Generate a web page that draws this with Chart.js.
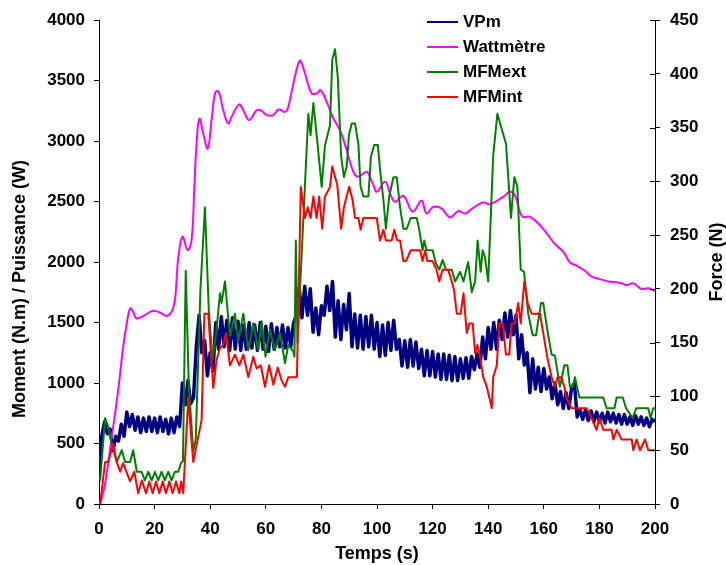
<!DOCTYPE html>
<html>
<head>
<meta charset="utf-8">
<script src="https://cdn.jsdelivr.net/npm/chart.js@4.4.0/dist/chart.umd.min.js"></script>
<style>
html, body { margin: 0; padding: 0; background: #fff; }
#chart { display: block; }
</style>
</head>
<body>
<canvas id="chart" width="726" height="565"></canvas>
<script>
const FONT = '"Liberation Sans", Arial, sans-serif';

// VPm, one reading per second, t = 0..200 (left axis)
const vpmValues = [
    190, 560, 680, 580, 620, 440, 560, 520, 660, 560, 760,
    640, 740, 610, 720, 590, 710, 600, 720, 600, 710,
    590, 720, 600, 700, 580, 710, 590, 720, 640, 1000,
    820, 1020, 830, 880, 1300, 1560, 1250, 1350, 1060, 1250,
    1100, 1500, 1280, 1550, 1300, 1520, 1270, 1540, 1280, 1510,
    1270, 1480, 1280, 1500, 1290, 1480, 1270, 1500, 1280, 1470,
    1260, 1490, 1280, 1460, 1300, 1480, 1290, 1460, 1300, 1500,
    1560, 1790, 1540, 1800, 1560, 1780, 1420, 1620, 1400, 1640,
    1560, 1800, 1600, 1840, 1380, 1680, 1360, 1650, 1440, 1740,
    1300, 1570, 1290, 1560, 1280, 1550, 1300, 1560, 1280, 1500,
    1220, 1480, 1230, 1500, 1270, 1520, 1280, 1360, 1140, 1350,
    1130, 1360, 1140, 1340, 1120, 1280, 1060, 1270, 1060, 1260,
    1050, 1240, 1030, 1240, 1030, 1230, 1020, 1220, 1020, 1200,
    1040, 1210, 1040, 1220, 1110, 1240, 1130, 1380, 1200, 1460,
    1280, 1500, 1280, 1520, 1360, 1580, 1380, 1600, 1400, 1560,
    1200, 1400, 1150, 1250, 920, 1200, 950, 1130, 930, 1120,
    950, 1050, 870, 1000, 820, 930, 790, 920, 790, 960,
    1000, 720, 780, 700, 780, 690, 770, 680, 760, 680,
    750, 670, 760, 680, 750, 670, 740, 660, 740, 660,
    720, 650, 730, 660, 720, 650, 710, 640, 700, 680
];

// Wattmètre (W, left axis)
const wattTimes = [0.4, 2.2, 4.6, 6.9, 8.7, 10, 11.2, 12.3, 13.5, 16.5, 19.5, 22.5, 24.3, 26.1, 27.3, 27.9, 28.5, 30,
    31.9, 33.3, 34.3, 35.1, 36.1, 37.5, 39.1, 40.5, 41.7, 42.7, 43.5, 44.7, 46.5, 47.7, 50.4, 51.9, 54, 56.7, 58.5,
    60.3, 62.7, 64.5, 66.9, 68.1, 69.9, 71.7, 72.5, 74.1, 76.5, 78.3, 79.7, 81.9, 84.3, 86.7, 89.1, 91.5, 93.3,
    96.3, 98.7, 99.9, 102.9, 104.7, 106.5, 109.5, 112.8, 116, 117.8, 120.2, 123.2, 126.3, 129.2, 131.7, 133.5,
    138, 140.6, 145.4, 147.8, 149.6, 151.4, 152.5, 155, 158.6, 161.5, 164, 167, 169.4, 171.8, 174.8, 177.2,
    180.2, 183.8, 187.4, 189.8, 192.2, 195.2, 197.6, 200];
const wattValues = [0, 171, 556, 942, 1300, 1493, 1617, 1589, 1534, 1562, 1598, 1576, 1554, 1589, 1686, 1851, 2030, 2209,
    2099, 2182, 2622, 2981, 3187, 3063, 2939, 3173, 3394, 3416, 3380, 3256, 3146, 3201, 3303, 3256, 3173, 3256, 3250,
    3215, 3215, 3262, 3242, 3284, 3477, 3642, 3664, 3559, 3394, 3394, 3421, 3325, 3187, 3091, 2925, 2746, 2705,
    2746, 2636, 2581, 2664, 2568, 2498, 2548, 2416, 2507, 2402, 2457, 2444, 2369, 2421, 2402, 2430,
    2493, 2479, 2540, 2581, 2553, 2416, 2374, 2374, 2305, 2223, 2149, 2085, 1997, 1970, 1928, 1879,
    1859, 1837, 1829, 1810, 1824, 1777, 1783, 1760];

// MFMext (N, right axis)
const extTimes = [0.4, 2.2, 3.3, 4.6, 6.4, 8.2, 9.4, 11.2, 12.3, 13.6, 15.3, 16.5, 17.7, 19, 20.1, 21.3, 22.5, 23.7,
    24.9, 26.1, 27.3, 28.5, 29.5, 30.2, 31.2, 32.3, 33.9, 34.8, 36.5, 38.1, 39.5, 40.8, 42.3, 43.5, 44.1, 45.3,
    47.1, 48.9, 50.1, 51.9, 53.7, 55.5, 57.3, 58.5, 59.9, 61.5, 63.3, 65.1, 66.9, 68.1, 69.9, 70.3, 70.8, 71.4,
    75.3, 76.1, 77.1, 78.5, 80.1, 81.3, 83.1, 83.9, 84.9, 85.9, 87.1, 88.1, 89.1, 89.9, 90.9, 92.1, 93.3, 94.1,
    95.1, 96.9, 97.8, 99, 100.3, 101.1, 102.3, 103.2, 104.4, 105.9, 107.1, 108.3, 109.5, 110.7, 112.1, 114.3,
    115.2, 116.4, 117, 117.8, 120, 121.2, 122.4, 123.6, 124.8, 126.9, 128.1, 129.9, 131.1, 132.8, 134.1, 135.3,
    136.2, 137.3, 138, 138.8, 140, 141.8, 143.3, 146.4, 148.2, 149.4, 150.5, 151.7, 152.9, 154.4, 156, 157.2,
    159, 159.8, 161.2, 162.8, 164, 165.8, 167.4, 168.5, 169.4, 170.4, 171.2, 172.8, 181.4, 182.6, 185.4, 186.2,
    188.4, 189.6, 192, 193.2, 197.6, 198.4, 199.4, 200];
const extValues = [22, 80, 72, 56, 39, 50, 39, 39, 50, 30, 30, 22, 30, 22, 30, 22, 30, 22,
    30, 22, 30, 30, 38, 40, 217, 110, 49, 60, 200, 276, 180, 134, 162, 196, 187, 207,
    156, 177, 152, 177, 143, 168, 143, 170, 137, 162, 143, 159, 131, 148, 142, 137, 245, 150,
    363, 343, 373, 338, 295, 334, 352, 413, 423, 397, 323, 304, 314, 343, 354, 354, 335, 295,
    286, 286, 323, 334, 334, 311, 283, 256, 286, 304, 304, 276, 256, 256, 266, 266,
    255, 236, 245, 236, 236, 224, 218, 227, 218, 218, 207, 216, 207, 225, 197, 207,
    245, 216, 236, 230, 207, 324, 363, 335, 266, 304, 295, 218, 216, 177, 157, 157,
    187, 187, 163, 139, 138, 109, 129, 129, 109, 109, 118, 99, 99, 89, 89, 99,
    99, 89, 80, 89, 89, 80, 89, 89];

// MFMint (N, right axis)
const intTimes = [0.4, 2.2, 3.3, 5.1, 6.4, 7.6, 8.7, 10, 11.2, 12.7, 14.1, 15.4, 16.9, 18.1, 19.3, 20.5, 21.7, 22.9,
    24.1, 25.3, 26.5, 27.7, 28.9, 29.5, 30.3, 32.1, 33.9, 36.9, 37.9, 39.3, 41.1, 42.3, 43.5, 44.7, 45.7, 47.1,
    48.9, 50.5, 51.9, 53.7, 55.5, 56.7, 58.2, 59.7, 61.2, 62.7, 64.3, 65.7, 66.9, 68.1, 71.2, 72.6, 74.1, 75.1,
    76.1, 77.1, 78.3, 79.2, 80.3, 81.3, 83.1, 83.9, 85.7, 87.1, 88.1, 90, 91.2, 92.1, 93.3, 94.1, 95.1, 99.9,
    101.1, 102.3, 103.2, 105.3, 106.2, 107.3, 108.3, 109.5, 110.4, 112.2, 115.5, 116.4, 117.3, 118.1, 120, 121.4,
    122.4, 123.6, 125.6, 126.9, 127.7, 128.7, 130.1, 131.1, 132.3, 133.2, 134.4, 135.3, 136.1, 137.1, 138.2,
    139.5, 141.3, 141.8, 143.1, 144, 145.2, 146.4, 147.6, 148.4, 149.6, 150.8, 151.7, 153, 154.2, 155.6, 158.6,
    159.8, 161.2, 162.8, 164, 165, 166.2, 167.4, 168.2, 170, 175.4, 177.2, 179, 180, 181.4, 184.4, 185, 186.2,
    188, 191.6, 192.2, 193.4, 194.6, 196.4, 197.6, 200];
const intValues = [0, 39, 39, 56, 39, 30, 38, 29, 21, 30, 10, 22, 10, 21, 10, 21, 10, 21,
    10, 21, 10, 21, 10, 21, 10, 98, 39, 78, 177, 177, 108, 134, 145, 148, 159, 129,
    139, 129, 139, 118, 137, 126, 129, 109, 129, 111, 127, 115, 109, 118, 118, 295, 266, 276,
    266, 286, 266, 286, 256, 286, 295, 314, 297, 256, 276, 295, 283, 266, 266, 255, 266, 266,
    245, 255, 245, 245, 255, 245, 245, 226, 226, 236, 236, 226, 236, 226, 226, 218,
    207, 218, 218, 207, 199, 177, 177, 196, 159, 168, 168, 140, 148, 137, 118,
    109, 89, 118, 129, 168, 168, 139, 139, 168, 168, 187, 168, 207, 187, 177, 177,
    159, 137, 118, 109, 118, 118, 109, 98, 89, 89, 80, 69, 80, 69, 69, 60, 69,
    60, 60, 50, 60, 50, 60, 50, 50];

const leftTitle = 'Moment (N.m) / Puissance (W)';
const rightTitle = 'Force (N)';

function toPoints(times, values) {
    return values.map((v, i) => ({ x: times[i], y: v }));
}

function axisGrid() {
    return { drawOnChartArea: false, drawTicks: true, tickLength: 5, tickColor: '#000', tickWidth: 1 };
}

const tickFont = { family: FONT, size: 17, weight: 'bold' };
const plainTick = v => String(v);

// extra drawing: inner ticks of right axis, rotated titles, legend inside plot
const overlay = {
    id: 'overlay',
    afterDraw(chart) {
        const ctx = chart.ctx;
        const area = chart.chartArea;
        const y1 = chart.scales.y1;
        ctx.save();
        ctx.strokeStyle = '#000';
        ctx.lineWidth = 1;
        y1.ticks.forEach(t => {
            const py = Math.round(y1.getPixelForValue(t.value)) + 0.5;
            ctx.beginPath();
            ctx.moveTo(area.right - 5, py);
            ctx.lineTo(area.right, py);
            ctx.stroke();
        });

        ctx.fillStyle = '#000';
        ctx.font = 'bold 18px ' + FONT;
        ctx.textAlign = 'center';
        ctx.textBaseline = 'middle';
        [[leftTitle, 20, 289], [rightTitle, 717, 262]].forEach(([txt, x, y]) => {
            ctx.save();
            ctx.translate(x, y);
            ctx.rotate(-Math.PI / 2);
            ctx.fillText(txt, 0, 0);
            ctx.restore();
        });

        ctx.font = 'bold 17px ' + FONT;
        ctx.textAlign = 'left';
        chart.data.datasets.forEach((ds, i) => {
            const y = 22 + i * 25;
            ctx.strokeStyle = ds.borderColor;
            ctx.lineWidth = 2;
            ctx.beginPath();
            ctx.moveTo(427, y);
            ctx.lineTo(458, y);
            ctx.stroke();
            ctx.fillText(ds.label, 463, y);
        });
        ctx.restore();
    }
};

new Chart(document.getElementById('chart'), {
    type: 'line',
    data: {
        datasets: [
            {
                label: 'VPm',
                data: vpmValues.map((v, i) => ({ x: i, y: v })),
                borderColor: '#000080',
                borderWidth: 3.5,
                yAxisID: 'y',
                order: 4
            },
            {
                label: 'Wattmètre',
                data: toPoints(wattTimes, wattValues),
                borderColor: '#FF00FF',
                borderWidth: 2,
                tension: 0.4,
                yAxisID: 'y',
                order: 3
            },
            {
                label: 'MFMext',
                data: toPoints(extTimes, extValues),
                borderColor: '#008000',
                borderWidth: 2,
                yAxisID: 'y1',
                order: 2
            },
            {
                label: 'MFMint',
                data: toPoints(intTimes, intValues),
                borderColor: '#FF0000',
                borderWidth: 2,
                yAxisID: 'y1',
                order: 1
            }
        ]
    },
    options: {
        responsive: false,
        animation: false,
        devicePixelRatio: 1,
        layout: { padding: { top: 20, left: 0, right: 0, bottom: 0 } },
        elements: { point: { radius: 0 }, line: { borderJoinStyle: 'round' } },
        plugins: { legend: { display: false }, tooltip: { enabled: false } },
        scales: {
            x: {
                type: 'linear',
                min: 0, max: 200,
                ticks: { stepSize: 20, color: '#000', font: tickFont, padding: 10, maxRotation: 0, callback: plainTick },
                grid: axisGrid(),
                border: { color: '#000', width: 1 },
                title: { display: true, text: 'Temps (s)', color: '#000', font: { family: FONT, size: 18, weight: 'bold' }, padding: { top: 0, bottom: 0 } },
                afterFit: s => { s.height = 61; }
            },
            y: {
                position: 'left',
                min: 0, max: 4000,
                ticks: { stepSize: 500, color: '#000', font: tickFont, padding: 9, callback: plainTick },
                grid: axisGrid(),
                border: { color: '#000', width: 1 },
                afterFit: s => { s.width = 99; }
            },
            y1: {
                position: 'right',
                min: 0, max: 450,
                ticks: { stepSize: 50, color: '#000', font: tickFont, padding: 10, callback: plainTick },
                grid: axisGrid(),
                border: { color: '#000', width: 1 },
                afterFit: s => { s.width = 71; }
            }
        }
    },
    plugins: [overlay]
});
</script>
</body>
</html>
